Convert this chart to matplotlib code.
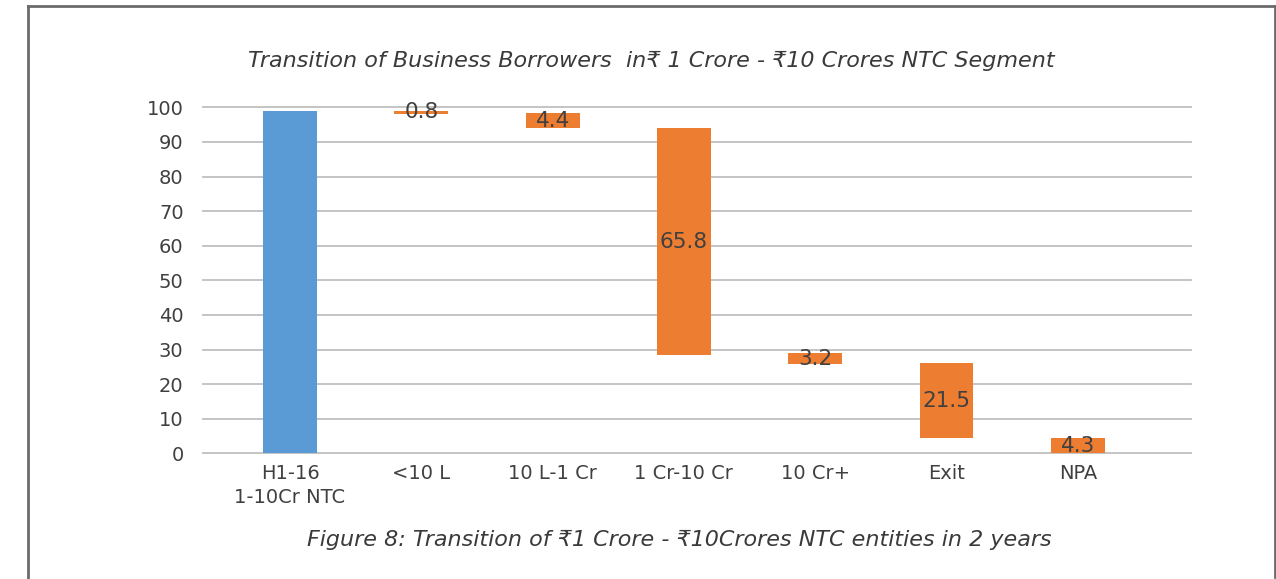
import matplotlib
matplotlib.use("Agg")
import matplotlib.pyplot as plt
from matplotlib.lines import Line2D

plt.rcParams['font.family'] = ['DejaVu Sans']

categories = ["H1-16\n1-10Cr NTC", "<10 L", "10 L-1 Cr", "1 Cr-10 Cr", "10 Cr+", "Exit", "NPA"]
values = [98.8, 0.8, 4.4, 65.8, 3.2, 21.5, 4.3]
bases = [0.0, 98.1, 93.9, 28.3, 25.7, 4.5, 0.0]
labels = ["", "0.8", "4.4", "65.8", "3.2", "21.5", "4.3"]
yticks = [0, 10, 20, 30, 40, 50, 60, 70, 80, 90, 100]

title = "Transition of Business Borrowers  in\u20b9 1 Crore - \u20b910 Crores NTC Segment"
caption = "Figure 8: Transition of \u20b91 Crore - \u20b910Crores NTC entities in 2 years"

BLUE = "#5B9BD5"
ORANGE = "#ED7D31"
TXT = "#404040"

W, H = 1276, 579
fig = plt.figure(figsize=(W / 100, H / 100), dpi=100)
ax = fig.add_axes([203 / W, 1 - 453.3 / H, (1191 - 203) / W, (453.3 - 107.3) / H])

x = list(range(len(categories)))
colors = [BLUE] + [ORANGE] * (len(categories) - 1)
ax.bar(x, values, bottom=bases, width=0.41, color=colors, zorder=3)

for xi, v, b, lab in zip(x, values, bases, labels):
    if lab:
        ax.text(xi, b + v / 2, lab, ha="center", va="center", fontsize=15.5,
                color=TXT, zorder=4)

ax.set_ylim(0, 100)
ax.set_xlim(-0.663, 6.862)
ax.set_yticks(yticks)
ax.set_yticklabels([str(t) for t in yticks])
ax.set_xticks(x)
ax.set_xticklabels(categories, linespacing=1.3)
ax.tick_params(axis="both", length=0, labelsize=14, colors=TXT)
ax.tick_params(axis="y", pad=14)
ax.tick_params(axis="x", pad=8)
ax.yaxis.grid(True, color="#BFBFBF", linewidth=1.3, zorder=0)
ax.set_axisbelow(True)
for gl in ax.get_ygridlines():
    gl.set_clip_on(False)
for s in ax.spines.values():
    s.set_visible(False)

fig.text(651 / W, 1 - 61 / H, title, ha="center", va="center", fontsize=16,
         style="italic", color="#3a3a3a")
fig.text(679 / W, 1 - 540 / H, caption, ha="center", va="center", fontsize=16,
         style="italic", color="#3a3a3a")

frame_c = "#6b6b6b"
fig.add_artist(Line2D([27.5 / W, 27.5 / W], [0, 1 - 5.5 / H], transform=fig.transFigure,
                      color=frame_c, linewidth=2))
fig.add_artist(Line2D([27.5 / W, 1274.5 / W], [1 - 5.5 / H, 1 - 5.5 / H], transform=fig.transFigure,
                      color=frame_c, linewidth=2))
fig.add_artist(Line2D([1274.5 / W, 1274.5 / W], [1 - 577 / H, 1 - 5.5 / H], transform=fig.transFigure,
                      color=frame_c, linewidth=2))

fig.savefig("out.png", dpi=100)
